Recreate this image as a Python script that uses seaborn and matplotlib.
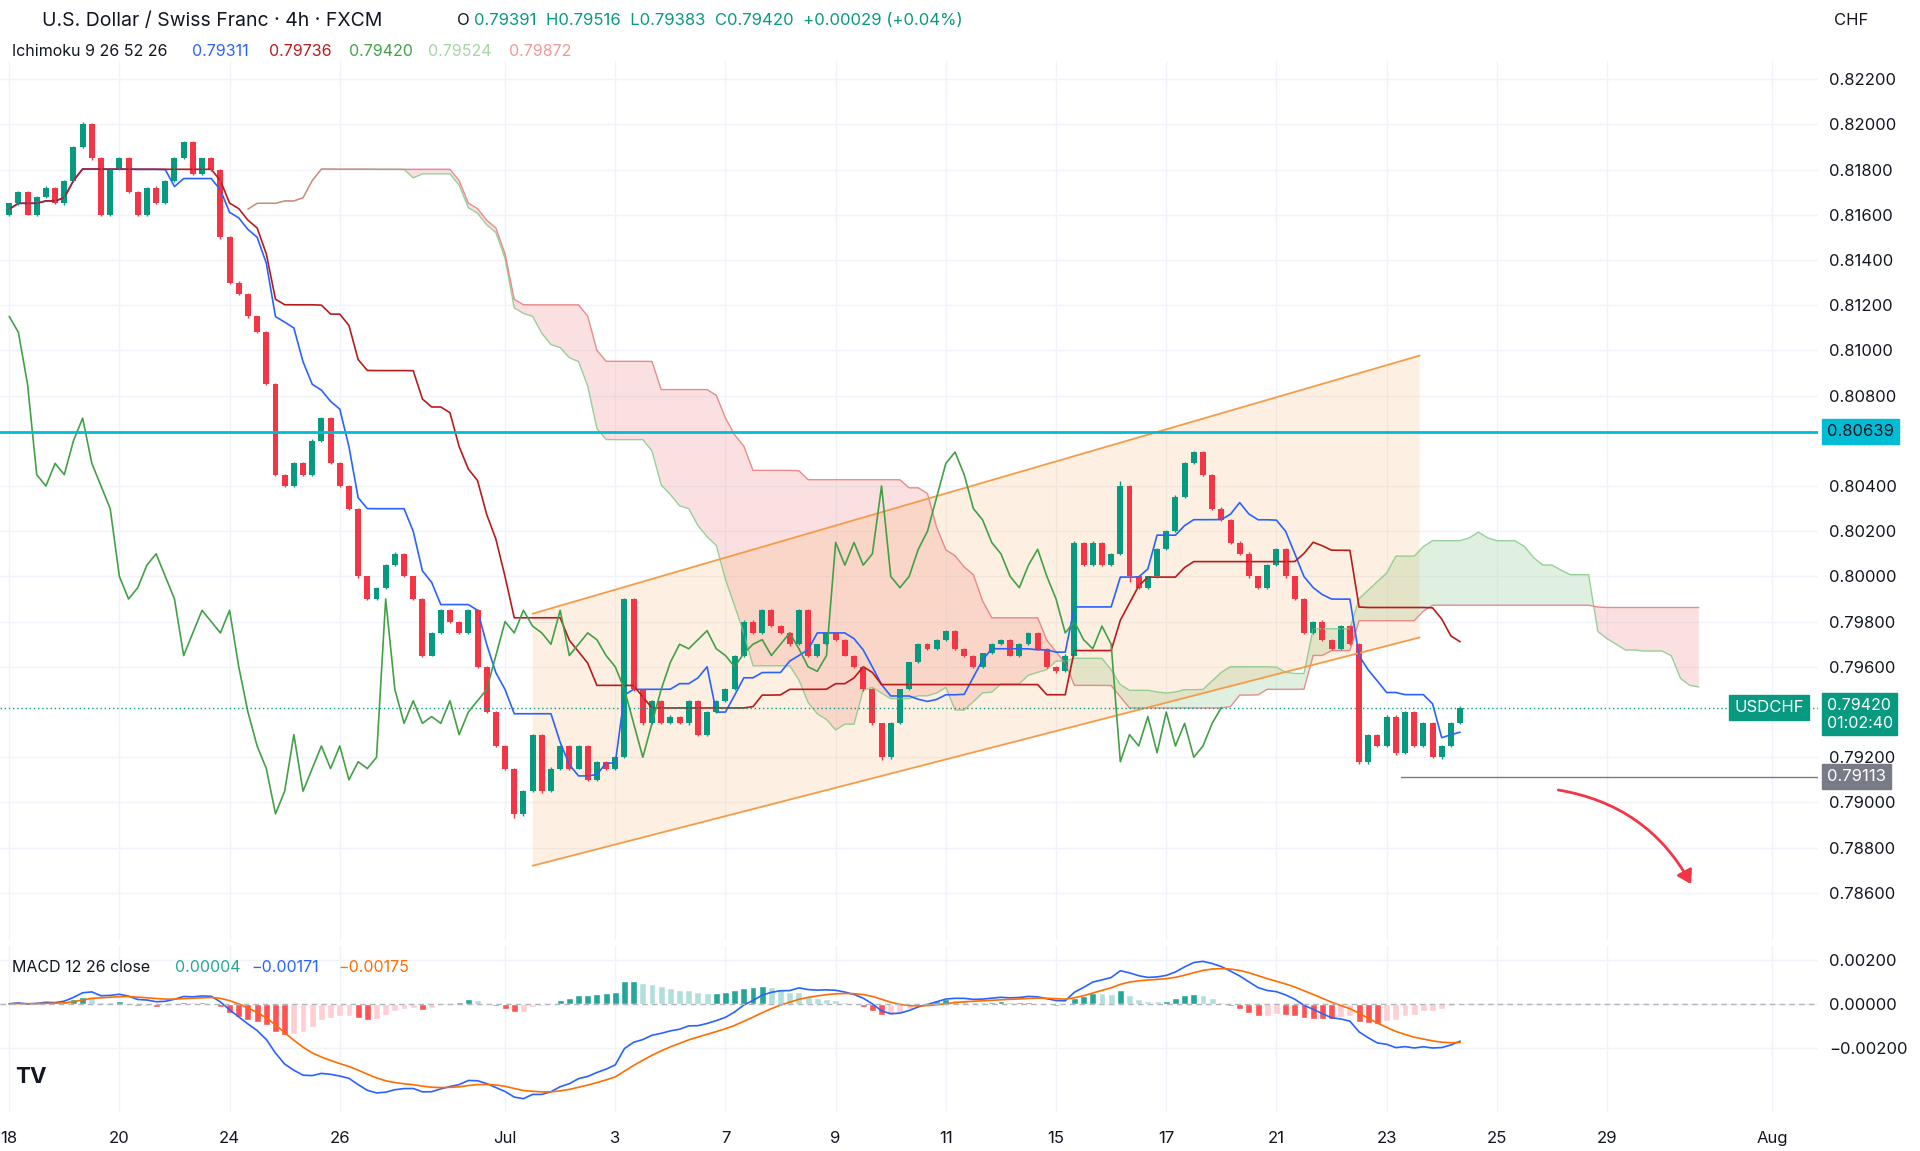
import numpy as np
import pandas as pd
import matplotlib
matplotlib.use("Agg")
import matplotlib.pyplot as plt
import seaborn as sns
from matplotlib.patches import FancyArrowPatch, Polygon

# ---------------- data (4h closes, 6 candles per trading day) ----------------
closes = [
    0.8165, 0.8170, 0.8160, 0.8168, 0.8172, 0.8165,   # Jun 18
    0.8175, 0.8190, 0.8200, 0.8185, 0.8160, 0.8180,   # Jun 19
    0.8185, 0.8170, 0.8160, 0.8172, 0.8165, 0.8175,   # Jun 20
    0.8185, 0.8192, 0.8178, 0.8185, 0.8180, 0.8150,   # Jun 23
    0.8130, 0.8125, 0.8115, 0.8108, 0.8085, 0.8045,   # Jun 24
    0.8040, 0.8050, 0.8045, 0.8060, 0.8070, 0.8050,   # Jun 25
    0.8040, 0.8030, 0.8000, 0.7990, 0.7995, 0.8005,   # Jun 26
    0.8010, 0.8000, 0.7990, 0.7965, 0.7975, 0.7985,   # Jun 27
    0.7980, 0.7975, 0.7985, 0.7960, 0.7940, 0.7925,   # Jun 30
    0.7915, 0.7895, 0.7905, 0.7930, 0.7905, 0.7915,   # Jul 1
    0.7925, 0.7915, 0.7925, 0.7910, 0.7918, 0.7915,   # Jul 2
    0.7920, 0.7990, 0.7950, 0.7935, 0.7945, 0.7935,   # Jul 3
    0.7938, 0.7935, 0.7945, 0.7930, 0.7940, 0.7945,   # Jul 4
    0.7950, 0.7965, 0.7980, 0.7975, 0.7985, 0.7978,   # Jul 7
    0.7975, 0.7970, 0.7985, 0.7965, 0.7970, 0.7975,   # Jul 8
    0.7972, 0.7965, 0.7960, 0.7950, 0.7935, 0.7920,   # Jul 9
    0.7935, 0.7950, 0.7962, 0.7970, 0.7968, 0.7972,   # Jul 10
    0.7976, 0.7968, 0.7965, 0.7960, 0.7966, 0.7970,   # Jul 11
    0.7972, 0.7965, 0.7970, 0.7975, 0.7968, 0.7960,   # Jul 14
    0.7958, 0.7965, 0.8015, 0.8005, 0.8015, 0.8005,   # Jul 15
    0.8010, 0.8040, 0.8000, 0.7995, 0.8000, 0.8012,   # Jul 16
    0.8020, 0.8035, 0.8050, 0.8055, 0.8045, 0.8030,   # Jul 17
    0.8025, 0.8015, 0.8010, 0.8000, 0.7995, 0.8005,   # Jul 18
    0.8012, 0.8000, 0.7990, 0.7975, 0.7980, 0.7972,   # Jul 21
    0.7968, 0.7978, 0.7970, 0.7918, 0.7930, 0.7925,   # Jul 22
    0.7938, 0.7922, 0.7940, 0.7925, 0.7935, 0.7920,   # Jul 23
    0.7925, 0.7935, 0.7942,                           # Jul 24
]
first_open = 0.8160
# upper / lower wicks in pips
wick_up = [3, 5, 4, 3, 6, 4,  4, 6, 8, 5, 4, 3,  5, 4, 3, 4, 5, 3,  4, 6, 5, 3, 4, 3,
           4, 5, 3, 4, 5, 4,  5, 4, 5, 6, 3, 4,  5, 4, 3, 4, 5, 4,  6, 5, 4, 3, 5, 4,
           4, 3, 4, 5, 3, 4,  6, 4, 5, 5, 4, 6,  6, 5, 4, 5, 3, 4,  4, 5, 6, 4, 5, 3,
           5, 4, 3, 4, 5, 4,  5, 4, 8, 5, 4, 5,  6, 5, 4, 5, 3, 4,  4, 5, 4, 5, 6, 3,
           5, 4, 3, 6, 4, 4,  5, 4, 5, 4, 3, 5,  4, 5, 4, 6, 5, 4,  4, 5, 6, 4, 5, 4,
           4, 20, 6, 5, 4, 5,  4, 8, 5, 7, 4, 5,  5, 4, 6, 8, 4, 4,  4, 5, 4, 6, 4, 5,
           5, 4, 6, 5, 4, 4,  6, 5, 4, 5, 4, 6,  4, 5, 8]
wick_dn = [4, 5, 3, 4, 5, 4,  5, 4, 4, 6, 5, 4,  4, 5, 6, 4, 3, 4,  5, 4, 5, 4, 5, 6,
           5, 4, 6, 5, 4, 6,  4, 5, 6, 4, 5, 4,  5, 6, 7, 4, 5, 4,  5, 4, 6, 5, 4, 5,
           4, 5, 4, 5, 6, 5,  6, 20, 8, 5, 6, 4,  5, 6, 4, 5, 4, 5,  5, 4, 5, 6, 4, 5,
           4, 5, 6, 4, 5, 4,  5, 4, 5, 6, 4, 5,  5, 6, 4, 5, 5, 4,  5, 4, 6, 5, 6, 12,
           8, 5, 4, 5, 4, 5,  4, 5, 6, 4, 5, 4,  5, 4, 5, 4, 5, 6,  6, 5, 4, 5, 4, 5,
           5, 4, 25, 5, 4, 6,  5, 4, 5, 4, 6, 5,  5, 6, 4, 5, 6, 4,  6, 5, 4, 5, 4, 6,
           5, 6, 5, 8, 12, 5,  6, 8, 5, 6, 4, 5,  6, 4, 5]

day_labels = ["18", "20", "24", "26", "Jul", "3", "7", "9", "11", "15", "17", "21", "23", "25", "29", "Aug"]
day_index = [0, 2, 4, 6, 9, 11, 13, 15, 17, 19, 21, 23, 25, 27, 29, 32]
price_ticks = [0.786, 0.788, 0.790, 0.792, 0.796, 0.798, 0.800, 0.802, 0.804, 0.808, 0.810,
               0.812, 0.814, 0.816, 0.818, 0.820, 0.822]
macd_ticks = [0.002, 0.0, -0.002]

channel_x = [57, 153.6]
channel_lower = [0.7872, 0.7973]
channel_upper = [0.79835, 0.80977]
resistance = 0.80639
support = 0.79113
support_start = 151.6
arrow_x = [168.4, 183.3]
arrow_y = [0.79057, 0.78628]

# ---------------- calculations ----------------
c = pd.Series(closes)
o = pd.Series([first_open] + closes[:-1])
hi = np.maximum(o, c) + np.array(wick_up) * 1e-5
lo = np.minimum(o, c) - np.array(wick_dn) * 1e-5
hi, lo = pd.Series(hi), pd.Series(lo)
n = len(c)
idx = np.arange(n)

def mid(p):
    return (hi.rolling(p, min_periods=1).max() + lo.rolling(p, min_periods=1).min()) / 2

tenkan = mid(9)
kijun = mid(26)
span_a = (tenkan + kijun) / 2
span_b = mid(52)
cloud_x = idx + 26

ema12 = c.ewm(span=12, adjust=False).mean()
ema26 = c.ewm(span=26, adjust=False).mean()
macd = ema12 - ema26
signal = macd.ewm(span=9, adjust=False).mean()
hist = macd - signal

# ---------------- plot ----------------
sns.set_theme(style="white")
plt.rcParams["font.family"] = "Inter"
fig = plt.figure(figsize=(19.2, 11.51), dpi=100)
ax = fig.add_axes([0.0, 0.183, 0.947, 0.764])
ax2 = fig.add_axes([0.0, 0.034, 0.947, 0.144], sharex=ax)

up_c, dn_c = "#089981", "#f23645"
grid_c = "#f0f3fa"
for a in (ax, ax2):
    for s in a.spines.values():
        s.set_visible(False)
    a.yaxis.tick_right()
    a.tick_params(axis="y", length=0, labelsize=12, colors="#131722", pad=8)
    a.grid(True, color=grid_c, lw=1)

# cloud
ax.fill_between(cloud_x, span_a, span_b, where=span_a >= span_b, color="#a5d6a7", alpha=0.35, interpolate=True, lw=0)
ax.fill_between(cloud_x, span_a, span_b, where=span_a < span_b, color="#ef9a9a", alpha=0.3, interpolate=True, lw=0)
sns.lineplot(x=cloud_x, y=span_a, ax=ax, color="#81c784", lw=1, alpha=0.8)
sns.lineplot(x=cloud_x, y=span_b, ax=ax, color="#e57373", lw=1, alpha=0.8)

# channel
poly = Polygon([(channel_x[0], channel_lower[0]), (channel_x[1], channel_lower[1]),
                (channel_x[1], channel_upper[1]), (channel_x[0], channel_upper[0])],
               closed=True, color="#f7b26b", alpha=0.2, lw=0)
ax.add_patch(poly)
ax.plot(channel_x, channel_lower, color="#f59c4a", lw=1.3)
ax.plot(channel_x, channel_upper, color="#f59c4a", lw=1.3)

# ichimoku lines
sns.lineplot(x=idx, y=tenkan, ax=ax, color="#2962ff", lw=1.2)
sns.lineplot(x=idx, y=kijun, ax=ax, color="#b71c1c", lw=1.2)
sns.lineplot(x=idx[26:] - 26, y=c.values[26:], ax=ax, color="#43a047", lw=1.2)

# candles
for i in range(n):
    col = up_c if c[i] >= o[i] else dn_c
    ax.vlines(i, lo[i], hi[i], color=col, lw=1)
    ax.bar(i, abs(c[i] - o[i]) or 1e-5, bottom=min(c[i], o[i]), width=0.65, color=col, lw=0)

# levels
ax.axhline(resistance, color="#00bcd4", lw=2)
ax.axhline(closes[-1], color=up_c, lw=1, ls=(0, (1, 2)))
ax.plot([support_start, 200], [support, support], color="#787b86", lw=1)
arr = FancyArrowPatch((arrow_x[0], arrow_y[0]), (arrow_x[1], arrow_y[1]),
                      connectionstyle="arc3,rad=-0.25", arrowstyle="-|>,head_length=8,head_width=5",
                      color="#f23645", lw=2)
ax.add_patch(arr)

ax.set_xlim(-1, 197)
ax.set_ylim(0.7839, 0.8228)
ax.set_yticks(price_ticks)
ax.set_yticklabels([f"{t:.5f}" for t in price_ticks])
ax.tick_params(axis="x", labelbottom=False, length=0)
ax.set_xlabel("")

def tag(a, y, text, fc, fg="white"):
    a.annotate(text, xy=(1.0, y), xycoords=("axes fraction", "data"), xytext=(6, 0),
               textcoords="offset points", va="center", ha="left", fontsize=12, color=fg,
               bbox=dict(boxstyle="square,pad=0.3", fc=fc, ec=fc), annotation_clip=False)

tag(ax, resistance, "0.80639", "#00bcd4", fg="#131722")
tag(ax, support, "0.79113", "#787b86")
ax.annotate("0.79420\n01:02:40", xy=(1.0, closes[-1] - 0.0003), xycoords=("axes fraction", "data"),
            xytext=(6, 0), textcoords="offset points", va="center", ha="left", fontsize=11.5,
            color="white", bbox=dict(boxstyle="square,pad=0.3", fc=up_c, ec=up_c), annotation_clip=False)
ax.annotate("USDCHF", xy=(0.992, closes[-1]), xycoords=("axes fraction", "data"), va="center", ha="right",
            fontsize=12, color="white", bbox=dict(boxstyle="square,pad=0.3", fc=up_c, ec=up_c))

# MACD
hcols = []
for i in range(n):
    prev = hist[i - 1] if i else hist[i]
    if hist[i] >= 0:
        hcols.append("#26a69a" if hist[i] >= prev else "#b2dfdb")
    else:
        hcols.append("#ff5252" if hist[i] < prev else "#ffcdd2")
ax2.bar(idx, hist, color=hcols, width=0.75)
sns.lineplot(x=idx, y=macd, ax=ax2, color="#2962ff", lw=1.2)
sns.lineplot(x=idx, y=signal, ax=ax2, color="#ff6d00", lw=1.2)
ax2.axhline(0, color="#b2b5be", lw=1, ls=(0, (4, 3)))
ax2.set_ylim(-0.00489, 0.00261)
ax2.set_yticks(macd_ticks)
ax2.set_yticklabels(["0.00200", "0.00000", "\u22120.00200"])
ax2.set_xticks([d * 6 for d in day_index])
ax2.set_xticklabels(day_labels)
ax2.tick_params(axis="x", length=0, labelsize=12, colors="#131722", pad=14)
ax2.set_xlabel("")
ax2.set_ylabel("")
ax.set_ylabel("")

# header texts
fig.text(0.022, 0.982, "U.S. Dollar / Swiss Franc · 4h · FXCM", fontsize=14, color="#131722", va="center")
fig.text(0.238, 0.982, "O", fontsize=12, color="#131722", va="center")
fig.text(0.247, 0.982, "0.79391  H0.79516  L0.79383  C0.79420  +0.00029 (+0.04%)", fontsize=12, color=up_c, va="center")
fig.text(0.006, 0.955, "Ichimoku 9 26 52 26", fontsize=11.5, color="#131722", va="center")
fig.text(0.100, 0.955, "0.79311", fontsize=11.5, color="#2962ff", va="center")
fig.text(0.140, 0.955, "0.79736", fontsize=11.5, color="#b71c1c", va="center")
fig.text(0.182, 0.955, "0.79420", fontsize=11.5, color="#43a047", va="center")
fig.text(0.223, 0.955, "0.79524", fontsize=11.5, color="#a5d6a7", va="center")
fig.text(0.265, 0.955, "0.79872", fontsize=11.5, color="#ef9a9a", va="center")
fig.text(0.006, 0.159, "MACD 12 26 close", fontsize=11.5, color="#131722", va="center")
fig.text(0.091, 0.159, "0.00004", fontsize=11.5, color="#26a69a", va="center")
fig.text(0.131, 0.159, "\u22120.00171", fontsize=11.5, color="#2962ff", va="center")
fig.text(0.176, 0.159, "\u22120.00175", fontsize=11.5, color="#ff6d00", va="center")
fig.text(0.955, 0.982, "CHF", fontsize=12, color="#131722", va="center")
fig.text(0.008, 0.064, "TV", fontsize=16, fontweight="bold", color="#131722", va="center")

fig.savefig("out.png", dpi=100, facecolor="white")
